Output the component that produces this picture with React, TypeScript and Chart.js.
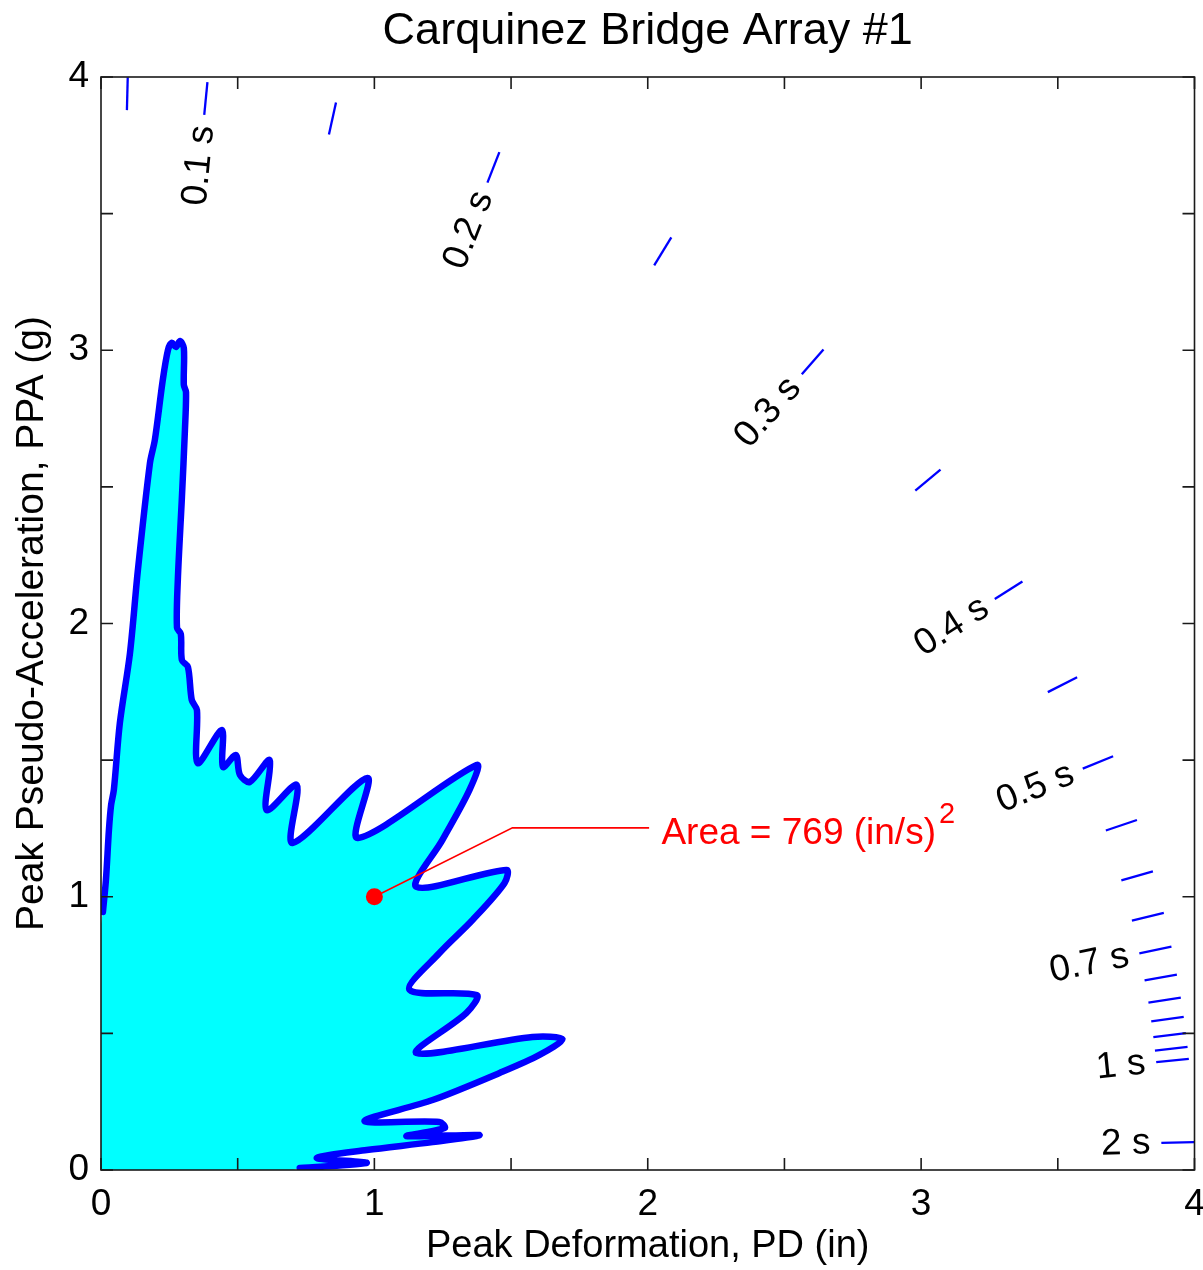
import React, { useEffect, useRef } from 'react';
import { Chart, registerables } from 'chart.js';

Chart.register(...registerables);

const FONT = '"Liberation Sans", Arial, Helvetica, sans-serif';

const TITLE = 'Carquinez Bridge Array #1';
const X_LABEL = 'Peak Deformation, PD (in)';
const Y_LABEL = 'Peak Pseudo-Acceleration, PPA (g)';

// Outline of the PD–PPA response curve (PD in inches, PPA in g), in period order
const curvePD = [0.007, 0.018, 0.029, 0.037, 0.047, 0.069, 0.106, 0.135, 0.179, 0.197, 0.226, 0.245, 0.259, 0.274, 0.289, 0.303, 0.303, 0.311, 0.307, 0.296, 0.281, 0.278, 0.292, 0.296, 0.318, 0.332, 0.351, 0.354, 0.442, 0.446, 0.493, 0.508, 0.544, 0.617, 0.606, 0.716, 0.701, 0.975, 0.939, 1.374, 1.348, 1.249, 1.154, 1.483, 1.476, 1.359, 1.238, 1.129, 1.374, 1.337, 1.154, 1.578, 1.688, 1.604, 1.458, 1.213, 0.964, 1.238, 1.257, 1.118, 1.384, 1.213, 0.972, 0.789, 0.972, 0.727];
const curvePPA = [0.944, 1.061, 1.244, 1.336, 1.391, 1.636, 1.892, 2.196, 2.587, 2.672, 2.891, 3.001, 3.027, 3.012, 3.034, 3.008, 2.873, 2.847, 2.708, 2.463, 2.159, 1.984, 1.962, 1.866, 1.841, 1.720, 1.683, 1.489, 1.610, 1.475, 1.519, 1.446, 1.420, 1.500, 1.317, 1.409, 1.197, 1.435, 1.215, 1.482, 1.391, 1.208, 1.036, 1.098, 1.050, 0.915, 0.794, 0.659, 0.640, 0.575, 0.428, 0.487, 0.479, 0.421, 0.355, 0.256, 0.179, 0.176, 0.154, 0.124, 0.128, 0.102, 0.073, 0.044, 0.026, 0.007];

// Closing edge of the filled region along the axes
const closurePD = [0.70, 0.35, 0.02, 0, 0, 0, 0];
const closurePPA = [0, 0, 0, 0, 0.02, 0.5, 0.9];

// Constant-period reference lines
const periods = [0.05, 0.1, 0.15, 0.2, 0.25, 0.3, 0.35, 0.4, 0.45, 0.5, 0.55, 0.6, 0.65, 0.7, 0.75, 0.8, 0.85, 0.9, 0.95, 1.0, 2.0];
const labelPeriods = [0.1, 0.2, 0.3, 0.4, 0.5, 0.7, 1.0, 2.0];
const labelTexts = ['0.1 s', '0.2 s', '0.3 s', '0.4 s', '0.5 s', '0.7 s', '1 s', '2 s'];
const DASH_R_START = 3.88;
const DASH_R_END = 4.0;
const LABEL_R_END = 3.84;
const G_IN = 386.1; // in/s^2 per g

// Area annotation
const areaPointPD = [1.0];
const areaPointPPA = [1.0];
const leaderPD = [1.0, 1.505, 2.005];
const leaderPPA = [1.0, 1.252, 1.252];
const AREA_TEXT = 'Area = 769 (in/s)';
const AREA_SUP = '2';
const AREA_TEXT_PD = 2.05;
const AREA_TEXT_PPA = 1.232;

const axisTicks = [0, 1, 2, 3, 4];
const minorTicks = [0, 0.5, 1, 1.5, 2, 2.5, 3, 3.5, 4];

const toPts = (xs: number[], ys: number[]) => xs.map((x, i) => ({ x, y: ys[i] }));

const direction = (T: number) => {
  const w = (2 * Math.PI) / T;
  const k = (w * w) / G_IN;
  const ux = 1 / Math.sqrt(1 + k * k);
  return { ux, uy: k * ux };
};

const overlay = {
  id: 'overlay',
  afterDatasetsDraw(chart: any) {
    const { ctx, chartArea: a, scales } = chart;
    const x = scales.x;
    const y = scales.y;
    const pxPerUnit = x.getPixelForValue(1) - x.getPixelForValue(0);
    ctx.save();

    // period labels
    ctx.font = `37px ${FONT}`;
    ctx.fillStyle = '#000';
    ctx.textAlign = 'center';
    ctx.textBaseline = 'middle';
    labelPeriods.forEach((T, i) => {
      const { ux, uy } = direction(T);
      const w = ctx.measureText(labelTexts[i]).width;
      const r = LABEL_R_END - w / 2 / pxPerUnit;
      const px = x.getPixelForValue(r * ux);
      const py = y.getPixelForValue(r * uy);
      const ang = Math.atan2(
        y.getPixelForValue(uy) - y.getPixelForValue(0),
        x.getPixelForValue(ux) - x.getPixelForValue(0)
      );
      ctx.save();
      ctx.translate(px, py);
      ctx.rotate(ang);
      ctx.fillText(labelTexts[i], 0, 0);
      ctx.restore();
    });

    // area annotation text
    ctx.fillStyle = '#ff0000';
    ctx.textAlign = 'left';
    ctx.textBaseline = 'middle';
    const tx = x.getPixelForValue(AREA_TEXT_PD);
    const ty = y.getPixelForValue(AREA_TEXT_PPA);
    ctx.fillText(AREA_TEXT, tx, ty);
    const tw = ctx.measureText(AREA_TEXT).width;
    ctx.font = `29px ${FONT}`;
    ctx.textBaseline = 'alphabetic';
    ctx.fillText(AREA_SUP, tx + tw + 3, ty - 10);

    // frame
    ctx.strokeStyle = '#1a1a1a';
    ctx.lineWidth = 1.6;
    ctx.strokeRect(a.left, a.top, a.right - a.left, a.bottom - a.top);
    const TL = 12;
    ctx.beginPath();
    minorTicks.forEach((v) => {
      const px = x.getPixelForValue(v);
      ctx.moveTo(px, a.bottom);
      ctx.lineTo(px, a.bottom - TL);
      ctx.moveTo(px, a.top);
      ctx.lineTo(px, a.top + TL);
      const py = y.getPixelForValue(v);
      ctx.moveTo(a.left, py);
      ctx.lineTo(a.left + TL, py);
      ctx.moveTo(a.right, py);
      ctx.lineTo(a.right - TL, py);
    });
    ctx.stroke();
    ctx.restore();
  },
};

export default function App() {
  const ref = useRef<HTMLCanvasElement | null>(null);

  useEffect(() => {
    if (!ref.current) return;
    const curve = toPts(curvePD, curvePPA);
    const filled = curve.concat(toPts(closurePD, closurePPA));

    const dashSets = periods.map((T) => {
      const { ux, uy } = direction(T);
      return {
        type: 'scatter' as const,
        data: [
          { x: DASH_R_START * ux, y: DASH_R_START * uy },
          { x: DASH_R_END * ux, y: DASH_R_END * uy },
        ],
        showLine: true,
        borderColor: '#0000ff',
        borderWidth: 2.3,
        pointRadius: 0,
        fill: false,
        order: 3,
      };
    });

    const chart = new Chart(ref.current, {
      type: 'scatter',
      data: {
        datasets: [
          {
            data: filled,
            showLine: true,
            borderWidth: 0,
            borderColor: 'rgba(0,0,0,0)',
            backgroundColor: '#00ffff',
            fill: 'shape',
            pointRadius: 0,
            tension: 0.3,
            order: 5,
          } as any,
          {
            data: curve,
            showLine: true,
            borderWidth: 6.5,
            borderColor: '#0000ff',
            fill: false,
            pointRadius: 0,
            tension: 0.3,
            borderJoinStyle: 'round',
            borderCapStyle: 'round',
            order: 4,
          } as any,
          ...dashSets,
          {
            data: toPts(leaderPD, leaderPPA),
            showLine: true,
            borderColor: '#ff0000',
            borderWidth: 1.6,
            pointRadius: 0,
            fill: false,
            order: 2,
          },
          {
            data: toPts(areaPointPD, areaPointPPA),
            showLine: false,
            pointRadius: 8.5,
            pointBackgroundColor: '#ff0000',
            pointBorderColor: '#ff0000',
            pointBorderWidth: 0,
            order: 1,
          },
        ],
      },
      options: {
        responsive: false,
        animation: false,
        devicePixelRatio: 1,
        events: [],
        layout: { padding: { left: 0, right: 7, top: 0, bottom: 0 } },
        plugins: {
          legend: { display: false },
          tooltip: { enabled: false },
          title: {
            display: true,
            fullSize: false,
            text: TITLE,
            color: '#000',
            font: { family: FONT, size: 45, weight: 'normal' },
            padding: { top: 5, bottom: 18 },
          },
        },
        scales: {
          x: {
            type: 'linear',
            min: 0,
            max: 4,
            grid: { display: false },
            border: { display: false },
            afterBuildTicks: (s: any) => {
              s.ticks = axisTicks.map((v) => ({ value: v }));
            },
            ticks: {
              color: '#000',
              font: { family: FONT, size: 37 },
              padding: 5,
              maxRotation: 0,
              callback: (v: any) => String(v),
            },
            title: {
              display: true,
              text: X_LABEL,
              color: '#000',
              font: { family: FONT, size: 38 },
              padding: { top: 0, bottom: 1 },
            },
            afterFit: (s: any) => {
              s.height = 100;
              s.paddingLeft = 0;
              s.paddingRight = 0;
            },
          },
          y: {
            type: 'linear',
            min: 0,
            max: 4,
            grid: { display: false },
            border: { display: false },
            afterBuildTicks: (s: any) => {
              s.ticks = axisTicks.map((v) => ({ value: v }));
            },
            ticks: {
              color: '#000',
              font: { family: FONT, size: 37 },
              padding: 4,
              callback: (v: any) => String(v),
            },
            title: {
              display: true,
              text: Y_LABEL,
              color: '#000',
              font: { family: FONT, size: 39 },
              padding: { top: 9, bottom: 0 },
            },
            afterFit: (s: any) => {
              s.width = 101;
              s.paddingTop = 0;
              s.paddingBottom = 0;
            },
          },
        },
      } as any,
      plugins: [overlay],
    });

    return () => chart.destroy();
  }, []);

  return (
    <div style={{ position: 'fixed', left: 0, top: 0, width: 1203, height: 1270, background: '#fff' }}>
      <canvas ref={ref} width={1203} height={1270} />
    </div>
  );
}
